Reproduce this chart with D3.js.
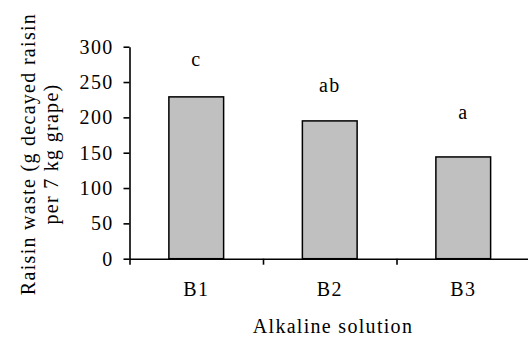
<!DOCTYPE html>
<html>
<head>
<meta charset="utf-8">
<script src="https://cdn.jsdelivr.net/npm/d3@7"></script>
<style>
  body { margin: 0; background: #fff; }
  svg text { font-family: "Liberation Serif", Times, "DejaVu Serif", serif; font-size: 20px; letter-spacing: 1.3px; fill: #000; }
  .axis path, .axis line { stroke: #000; stroke-width: 1.6px; }
</style>
</head>
<body>
<div id="chart"></div>
<script>
// data
var categories = ["B1", "B2", "B3"];
var values = [229, 195, 144];
var letters = ["c", "ab", "a"];
var letterLevel = [272, 236, 197];   // height (in g) where the letter sits
var yTicks = [0, 50, 100, 150, 200, 250, 300];

var svgWidth = 528;
var svgHeight = 341;

var margin = {
  top: 46.7,
  left: 129.5
};

var width = 400.5;
var height = 212;

var svg = d3
  .select("#chart")
  .append("svg")
  .attr("width", svgWidth)
  .attr("height", svgHeight);

var chartGroup = svg.append("g")
  .attr("transform", `translate(${margin.left}, ${margin.top})`);

var xScale = d3.scaleBand()
  .domain(categories)
  .range([0, width])
  .padding(0);

var yScale = d3.scaleLinear()
  .domain([0, 300])
  .range([height, 0]);

var bw = xScale.bandwidth();

// bars
chartGroup.selectAll("rect")
  .data(values)
  .enter()
  .append("rect")
  .attr("x", (d, i) => xScale(categories[i]) + bw * 0.295)
  .attr("y", d => yScale(d))
  .attr("width", bw * 0.41)
  .attr("height", d => height - yScale(d))
  .attr("fill", "#c0c0c0")
  .attr("stroke", "#000")
  .attr("stroke-width", 1.5);

// significance letters
chartGroup.selectAll(".letter")
  .data(letters)
  .enter()
  .append("text")
  .attr("class", "letter")
  .attr("x", (d, i) => xScale(categories[i]) + bw / 2)
  .attr("y", (d, i) => yScale(letterLevel[i]))
  .attr("text-anchor", "middle")
  .text(d => d);

// y axis
var leftAxis = d3.axisLeft(yScale)
  .tickValues(yTicks)
  .tickSize(6)
  .tickSizeOuter(0)
  .tickPadding(10);

chartGroup.append("g")
  .attr("class", "axis")
  .call(leftAxis)
  .attr("font-family", null)
  .attr("font-size", null);

// x axis: ticks between categories
var edgeScale = d3.scaleLinear().domain([0, categories.length]).range([0, width]);
chartGroup.append("g")
  .attr("class", "axis")
  .attr("transform", `translate(0, ${height})`)
  .call(d3.axisBottom(edgeScale).ticks(categories.length).tickSize(6).tickSizeOuter(0).tickFormat(""));

// category labels
chartGroup.append("g")
  .attr("class", "axis")
  .attr("transform", `translate(0, ${height})`)
  .call(d3.axisBottom(xScale).tickSize(0).tickPadding(23))
  .attr("font-family", null)
  .attr("font-size", null)
  .call(g => g.select(".domain").remove());

// x title
chartGroup.append("text")
  .attr("x", 203.5)
  .attr("y", 333.3 - margin.top)
  .attr("text-anchor", "middle")
  .text("Alkaline solution");

// y title, two lines
var yTitle = svg.append("text")
  .attr("transform", "translate(35, 154) rotate(-90)")
  .attr("text-anchor", "middle");
yTitle.append("tspan").attr("x", 0).attr("y", 0).text("Raisin waste (g decayed raisin");
yTitle.append("tspan").attr("x", 0).attr("y", 23).text("per 7 kg grape)");
</script>
</body>
</html>
